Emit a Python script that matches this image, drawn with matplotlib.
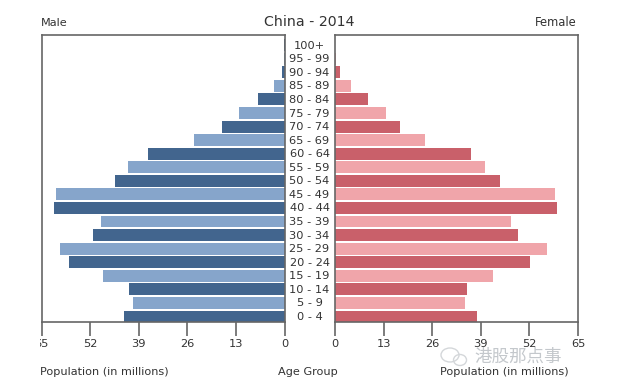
import matplotlib
matplotlib.use("Agg")
import matplotlib.pyplot as plt
from matplotlib.patches import Ellipse
from matplotlib.transforms import Bbox

ages = ["0 - 4", "5 - 9", "10 - 14", "15 - 19", "20 - 24", "25 - 29", "30 - 34",
        "35 - 39", "40 - 44", "45 - 49", "50 - 54", "55 - 59", "60 - 64", "65 - 69",
        "70 - 74", "75 - 79", "80 - 84", "85 - 89", "90 - 94", "95 - 99", "100+"]
male = [42.9, 40.5, 41.6, 48.5, 57.6, 60.0, 51.2, 49.0, 61.6, 61.0, 45.3,
        41.8, 36.5, 24.2, 16.7, 12.2, 7.1, 2.7, 0.8, 0.1, 0.02]
female = [38.0, 34.8, 35.3, 42.2, 52.1, 56.7, 48.9, 47.1, 59.4, 58.8, 44.1,
          40.1, 36.4, 24.0, 17.4, 13.6, 8.8, 4.3, 1.3, 0.2, 0.05]
ticks = [0, 13, 26, 39, 52, 65]

W, H = 625, 389
txt = "#333333"
spine = "#666666"


def px_axes(x0, x1, y0, y1):
    return fig.add_axes([x0 / W, 1 - y1 / H, (x1 - x0) / W, (y1 - y0) / H])


fig = plt.figure(figsize=(W / 100, H / 100), dpi=100)
ax1 = px_axes(41.5, 284.5, 35, 321.5)
ax2 = px_axes(335, 578, 35, 321.5)

# alternating dark / light bars, as in the original
male_cols = ["#42658e" if i % 2 == 0 else "#86a5cb" for i in range(len(ages))]
female_cols = ["#c9606a" if i % 2 == 0 else "#f0a5aa" for i in range(len(ages))]
pos = list(range(len(ages)))

ax1.barh(pos, male, height=0.88, color=male_cols)
ax2.barh(pos, female, height=0.88, color=female_cols)

ax1.set_xlim(65, 0)
ax2.set_xlim(0, 65)
for ax in (ax1, ax2):
    ax.set_ylim(-0.37, 20.75)
    ax.set_yticks([])
    ax.set_xticks(ticks)
    ax.tick_params(axis="x", length=10, width=1.2, color=spine, labelsize=8.2,
                   labelcolor=txt, pad=2.5)
    for s in ax.spines.values():
        s.set_color(spine)
        s.set_linewidth(1.2)

# the left-most tick label is cut off at the image edge of the plot
for lab in ax1.get_xticklabels():
    if lab.get_text() == "65":
        lab.set_clip_on(True)
        lab.set_clip_box(Bbox([[40, 0], [100, 80]]))

# age labels, centred in the gap between the two panels
for p, a in zip(pos, ages):
    y = ax1.transData.transform((0, p))[1]
    fig.text(309.5 / W, (y - 0.5) / H, a, ha="center", va="center", fontsize=8.2, color=txt)

fig.text(309.5 / W, 1 - 26 / H, "China - 2014", ha="center", va="baseline", fontsize=10.2, color=txt)
fig.text(41 / W, 1 - 26 / H, "Male", ha="left", va="baseline", fontsize=8.1, color=txt)
fig.text(577 / W, 1 - 26 / H, "Female", ha="right", va="baseline", fontsize=8.3, color=txt)
fig.text(40.5 / W, 1 - 372 / H, "Population (in millions)", ha="left", va="center", fontsize=8.1, color=txt)
fig.text(308 / W, 1 - 372 / H, "Age Group", ha="center", va="center", fontsize=8.1, color=txt)
fig.text(569 / W, 1 - 372 / H, "Population (in millions)", ha="right", va="center", fontsize=8.1, color=txt)

# watermark
fig.text(474 / W, 1 - 356.5 / H, "港股那点事", ha="left", va="center", fontsize=12.6,
         color="#c4c8cc", family=["Noto Sans CJK SC", "DejaVu Sans"])
for cx, cy, w, h in [(450, 355, 18, 14), (460, 360, 13, 11)]:
    fig.add_artist(Ellipse((cx / W, 1 - cy / H), w / W, h / H, fill=False,
                           edgecolor="#d4d7da", linewidth=1.0, transform=fig.transFigure))

plt.savefig("out.png", dpi=100)
